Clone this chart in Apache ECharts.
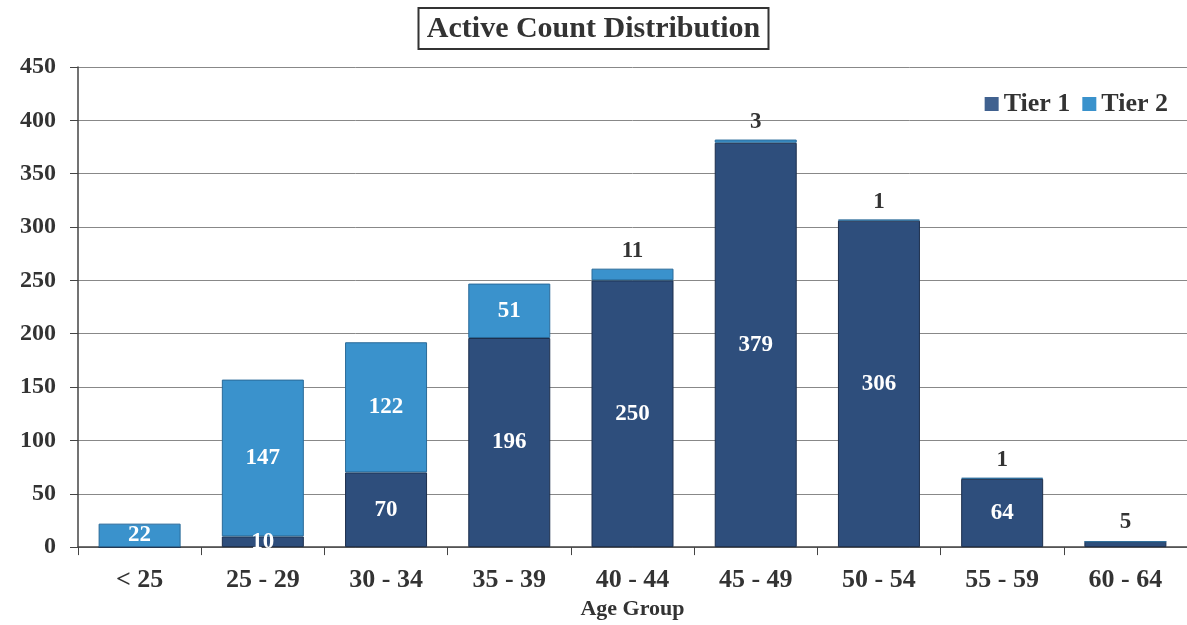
<!DOCTYPE html>
<html><head><meta charset="utf-8">
<script src="https://cdn.jsdelivr.net/npm/echarts@6/dist/echarts.min.js"></script>
<style>html,body{margin:0;padding:0;background:#fff}#c{width:1187px;height:625px}</style>
</head><body><div id="c"></div>
<script>
const categories = ['< 25','25 - 29','30 - 34','35 - 39','40 - 44','45 - 49','50 - 54','55 - 59','60 - 64'];
const tier1 = [0, 10, 70, 196, 250, 379, 306, 64, 5];
const tier2 = [22, 147, 122, 51, 11, 3, 1, 1, 0];
const yTicks = [0, 50, 100, 150, 200, 250, 300, 350, 400, 450];

const serif = '"Liberation Serif","Times New Roman",serif';
const dark = '#333';
const labelFont = {fontFamily: serif, fontWeight: 'bold', fontSize: 23};

const t1Data = tier1.map((v, i) => {
  if (tier2[i] === 0 && v > 0 && v < 20) {
    return {value: v, label: {show: true, position: 'top', color: dark, distance: 8}};
  }
  return {value: v, label: {show: v > 0, position: 'inside', color: '#fff'}};
});
const t2Data = tier2.map((v, i) => {
  if (v === 0) return {value: v, label: {show: false}};
  if (v < 20) return {value: v, label: {show: true, position: 'top', color: dark, distance: 6}};
  return {value: v, label: {show: true, position: 'inside', color: '#fff'}};
});

const chart = echarts.init(document.getElementById('c'));
chart.setOption({
  animation: false,
  title: {
    text: 'Active Count Distribution', left: 'center', top: 8,
    padding: [6, 9, 5, 9],
    borderColor: '#333', borderWidth: 2,
    textStyle: {fontFamily: serif, fontWeight: 'bold', fontSize: 30, color: dark}
  },
  legend: {
    right: 14, top: 86, itemWidth: 14, itemHeight: 14, itemGap: 12,
    textStyle: {fontFamily: serif, fontWeight: 'bold', fontSize: 26, color: dark},
    itemStyle: {borderWidth: 0},
    data: [{name: 'Tier 1', icon: 'rect', itemStyle: {color: '#40618f'}}, {name: 'Tier 2', icon: 'rect'}]
  },
  grid: {left: 78, right: 0, top: 67, bottom: 73},
  xAxis: {
    type: 'category', data: categories,
    name: 'Age Group', nameLocation: 'middle', nameGap: 49,
    nameTextStyle: {fontFamily: serif, fontWeight: 'bold', fontSize: 22, color: dark},
    axisLine: {lineStyle: {color: '#444', width: 1.5}},
    axisTick: {show: true, length: 8, lineStyle: {color: '#444'}},
    axisLabel: {fontFamily: serif, fontWeight: 'bold', fontSize: 26, color: dark, margin: 20}
  },
  yAxis: {
    type: 'value', min: yTicks[0], max: yTicks[yTicks.length - 1], interval: 50,
    axisLine: {show: true, lineStyle: {color: '#444', width: 1.5}},
    axisTick: {show: true, length: 8, lineStyle: {color: '#444'}},
    splitLine: {lineStyle: {color: '#888', width: 1}},
    axisLabel: {fontFamily: serif, fontWeight: 'bold', fontSize: 24, color: dark, margin: 22}
  },
  series: [
    {name: 'Tier 1', type: 'bar', stack: 'a', barWidth: 82, data: t1Data,
     itemStyle: {color: '#2e4e7c', borderColor: '#1d2f4d', borderWidth: 1},
     label: labelFont},
    {name: 'Tier 2', type: 'bar', stack: 'a', barWidth: 82, data: t2Data,
     itemStyle: {color: '#3a92cc', borderColor: '#2a6a99', borderWidth: 1},
     label: labelFont}
  ]
});
</script></body></html>
